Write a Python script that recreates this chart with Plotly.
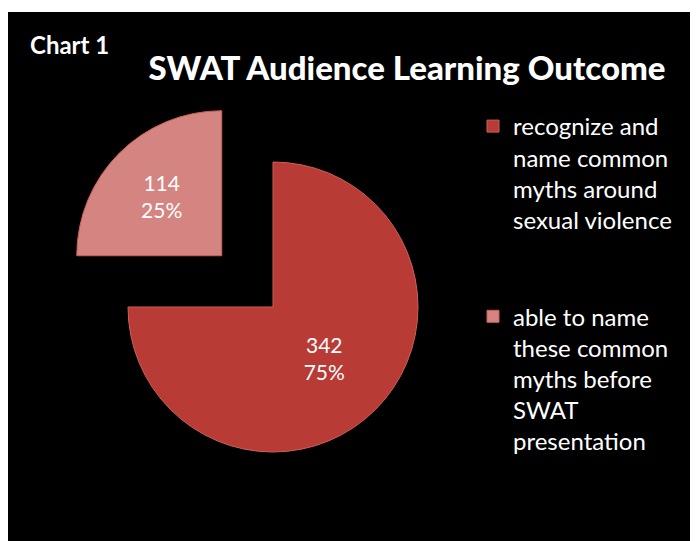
import plotly.graph_objects as go

# data
labels = [
    "recognize and<br>name common<br>myths around<br>sexual violence<br> <br> ",
    "able to name<br>these common<br>myths before<br>SWAT<br>presentation",
]
counts = [342, 114]
slice_colors = ["#b93b36", "#d48581"]
pulls = [0, 0.5]

# the page body adds an 8px margin, so the figure is drawn 8px smaller
W, H = 690, 533

fig = go.Figure()

fig.add_trace(
    go.Pie(
        labels=labels,
        values=counts,
        sort=False,
        direction="clockwise",
        rotation=0,
        pull=pulls,
        marker=dict(colors=slice_colors, line=dict(color="#cf5f58", width=1)),
        texttemplate="%{value}<br>%{percent:.0%}",
        textposition="inside",
        insidetextorientation="horizontal",
        textfont=dict(family="Lato", size=21, color="white"),
        domain=dict(x=[47.5 / W, 482.5 / W], y=[1 - 516.5 / H, 1 - 81.5 / H]),
        hoverinfo="label+value+percent",
    )
)

# black slide panel
fig.add_shape(
    type="rect",
    xref="paper",
    yref="paper",
    x0=0,
    x1=685 / W,
    y0=0,
    y1=1 - 4 / H,
    fillcolor="black",
    line=dict(width=0),
    layer="below",
)

fig.add_annotation(
    text="<b>Chart 1</b>",
    xref="paper",
    yref="paper",
    x=20 / W,
    y=1 - 36 / H,
    xanchor="left",
    yanchor="middle",
    showarrow=False,
    font=dict(family="Lato", size=24, color="white"),
)

fig.update_layout(
    width=W,
    height=H,
    margin=dict(l=0, r=0, t=0, b=0),
    paper_bgcolor="white",
    plot_bgcolor="black",
    title=dict(
        text="SWAT Audience Learning Outcome",
        x=399 / W,
        xanchor="center",
        y=1 - 60 / H,
        yanchor="middle",
        font=dict(family="Lato", size=33, color="white", weight=900),
    ),
    showlegend=True,
    legend=dict(
        x=465 / W,
        y=1 - 96 / H,
        xanchor="left",
        yanchor="top",
        valign="top",
        bgcolor="rgba(0,0,0,0)",
        font=dict(family="Lato", size=24, color="white"),
        itemclick=False,
    ),
)

fig.write_html("out.html")
